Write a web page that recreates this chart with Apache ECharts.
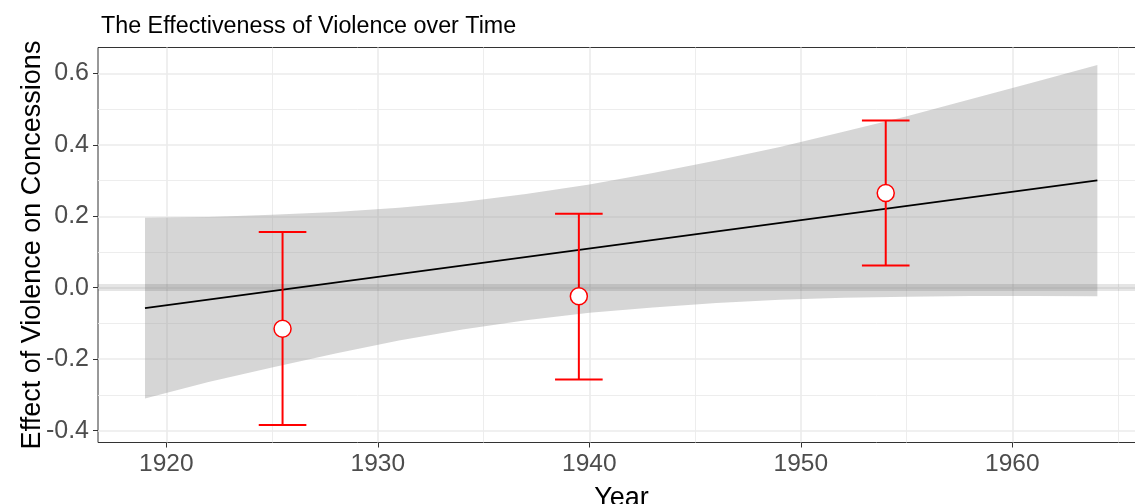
<!DOCTYPE html>
<html>
<head>
<meta charset="utf-8">
<title>The Effectiveness of Violence over Time</title>
<script src="https://cdn.jsdelivr.net/npm/echarts@6/dist/echarts.min.js"></script>
<style>
  html, body { margin: 0; padding: 0; background: #fff; }
  #chart { width: 1135px; height: 504px; }
</style>
</head>
<body>
<div id="chart"></div>
<script>
// confidence ribbon
const bandYears = [1919, 1922, 1925, 1928, 1931, 1934, 1937, 1940, 1943, 1946, 1949, 1952, 1955, 1958, 1961, 1964];
const bandUpper = [0.196, 0.198, 0.204, 0.212, 0.224, 0.240, 0.262, 0.289, 0.321, 0.356, 0.394, 0.436, 0.480, 0.527, 0.575, 0.623];
const bandLower = [-0.310, -0.264, -0.223, -0.184, -0.148, -0.117, -0.091, -0.070, -0.055, -0.043, -0.034, -0.028, -0.025, -0.023, -0.023, -0.024];

// fitted line
const fitYears = [1919, 1964];
const fitValues = [-0.057, 0.300];

// period estimates with intervals
const pointYears = [1925.5, 1939.5, 1954];
const pointEst = [-0.115, -0.024, 0.265];
const pointLow = [-0.384, -0.257, 0.062];
const pointHigh = [0.156, 0.207, 0.468];

const yTicks = { min: -0.4, max: 0.6, step: 0.2 };
const xTicks = { min: 1920, max: 1970, step: 10 };

const FONT = '"Liberation Sans", Arial, Helvetica, sans-serif';
const capHalf = 1.125; // years

const chart = echarts.init(document.getElementById('chart'));

const gridLine = { color: '#ebebeb', width: 1.6 };
const minorLine = { color: '#ebebeb', width: 0.9 };

const option = {
  animation: false,
  backgroundColor: '#ffffff',
  textStyle: { fontFamily: FONT },
  title: {
    text: 'The Effectiveness of Violence over Time',
    left: 96,
    top: 10,
    textStyle: { fontFamily: FONT, fontSize: 23.3, fontWeight: 'normal', color: '#000' }
  },
  grid: [
    // panel (data + border), runs a little past the right edge like the original
    { left: 98, width: 1047, top: 47.5, height: 395, outerBoundsMode: 'none', containLabel: false,
      show: true, borderColor: '#333333', borderWidth: 1, backgroundColor: 'transparent' },
    // horizontal grid lines / y labels
    { left: 98, width: 1047, top: 73.3, height: 357.4, outerBoundsMode: 'none', containLabel: false },
    // vertical grid lines / x labels
    { left: 166.3, width: 1057.5, top: 47.5, height: 395, outerBoundsMode: 'none', containLabel: false }
  ],
  xAxis: [
    {
      type: 'value', gridIndex: 0, min: 1916.78, max: 1966.25,
      axisLine: { show: false, onZero: false }, axisTick: { show: false }, axisLabel: { show: false }, splitLine: { show: false },
      name: 'Year', nameLocation: 'middle', nameGap: 43,
      nameTextStyle: { fontFamily: FONT, fontSize: 27, color: '#000' }
    },
    { type: 'value', gridIndex: 1, min: 1916.78, max: 1966.25, show: false, axisLine: { onZero: false } },
    {
      type: 'value', gridIndex: 2, min: xTicks.min, max: xTicks.max, interval: xTicks.step,
      axisLine: { show: false, onZero: false },
      axisTick: { show: true, length: 5, lineStyle: { color: '#333333', width: 1 } },
      axisLabel: { fontFamily: FONT, fontSize: 24.5, color: '#4d4d4d', margin: 9, showMaxLabel: false, formatter: v => String(v) },
      splitLine: { show: true, lineStyle: gridLine },
      minorTick: { show: false, splitNumber: 2 },
      minorSplitLine: { show: true, lineStyle: minorLine }
    }
  ],
  yAxis: [
    {
      type: 'value', gridIndex: 0, min: -0.433, max: 0.672,
      axisLine: { show: false, onZero: false }, axisTick: { show: false }, axisLabel: { show: false }, splitLine: { show: false },
      name: 'Effect of Violence on Concessions', nameLocation: 'middle', nameGap: 52,
      nameTextStyle: { fontFamily: FONT, fontSize: 27, color: '#000' }
    },
    {
      type: 'value', gridIndex: 1, min: yTicks.min, max: yTicks.max, interval: yTicks.step,
      axisLine: { show: false, onZero: false },
      axisTick: { show: true, length: 5, lineStyle: { color: '#333333', width: 1 } },
      axisLabel: { fontFamily: FONT, fontSize: 25, color: '#4d4d4d', margin: 9, formatter: v => v.toFixed(1) },
      splitLine: { show: true, lineStyle: gridLine },
      minorTick: { show: false, splitNumber: 2 },
      minorSplitLine: { show: true, lineStyle: minorLine }
    },
    { type: 'value', gridIndex: 2, min: -0.433, max: 0.672, show: false, axisLine: { onZero: false } }
  ],
  series: [
    {
      name: 'ribbon',
      type: 'custom',
      xAxisIndex: 0, yAxisIndex: 0,
      clip: true,
      silent: true,
      z: 2,
      data: bandYears.map((y, i) => [y, bandLower[i], bandUpper[i]]),
      renderItem: function (params, api) {
        if (params.dataIndex !== 0) return null;
        const pts = [];
        for (let i = 0; i < bandYears.length; i++) pts.push(api.coord([bandYears[i], bandUpper[i]]));
        for (let i = bandYears.length - 1; i >= 0; i--) pts.push(api.coord([bandYears[i], bandLower[i]]));
        return {
          type: 'polygon',
          shape: { points: pts },
          style: { fill: 'rgba(153,153,153,0.4)', stroke: null }
        };
      },
      markLine: {
        silent: true,
        symbol: 'none',
        label: { show: false },
        lineStyle: { color: 'rgba(0,0,0,0.1)', width: 7, type: 'solid' },
        data: [{ yAxis: 0 }]
      }
    },
    {
      name: 'fit',
      type: 'line',
      xAxisIndex: 0, yAxisIndex: 0,
      z: 3,
      symbol: 'none',
      data: fitYears.map((y, i) => [y, fitValues[i]]),
      lineStyle: { color: '#000000', width: 1.8 }
    },
    {
      name: 'intervals',
      type: 'custom',
      xAxisIndex: 0, yAxisIndex: 0,
      z: 4,
      data: pointYears.map((y, i) => [y, pointLow[i], pointHigh[i]]),
      renderItem: function (params, api) {
        const x = api.value(0);
        const lo = api.coord([x, api.value(1)]);
        const hi = api.coord([x, api.value(2)]);
        const loL = api.coord([x - capHalf, api.value(1)]);
        const loR = api.coord([x + capHalf, api.value(1)]);
        const hiL = api.coord([x - capHalf, api.value(2)]);
        const hiR = api.coord([x + capHalf, api.value(2)]);
        const style = { stroke: '#ff0000', lineWidth: 2 };
        return {
          type: 'group',
          children: [
            { type: 'line', shape: { x1: lo[0], y1: lo[1], x2: hi[0], y2: hi[1] }, style: style },
            { type: 'line', shape: { x1: loL[0], y1: loL[1], x2: loR[0], y2: loR[1] }, style: style },
            { type: 'line', shape: { x1: hiL[0], y1: hiL[1], x2: hiR[0], y2: hiR[1] }, style: style }
          ]
        };
      }
    },
    {
      name: 'estimates',
      type: 'scatter',
      xAxisIndex: 0, yAxisIndex: 0,
      z: 5,
      symbol: 'circle',
      symbolSize: 17,
      data: pointYears.map((y, i) => [y, pointEst[i]]),
      itemStyle: { color: '#ffffff', borderColor: '#ff0000', borderWidth: 1.5, opacity: 1 }
    }
  ]
};

chart.setOption(option);
</script>
</body>
</html>
